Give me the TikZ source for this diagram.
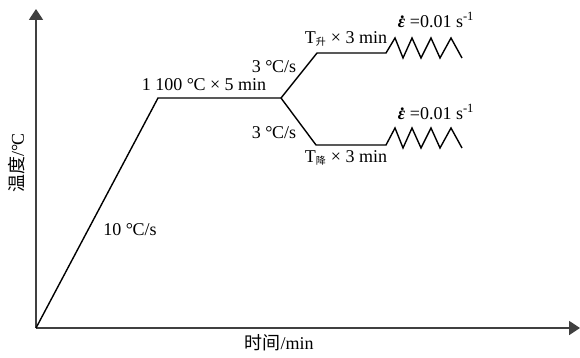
\documentclass[tikz,border=0pt]{standalone}
\usepackage{fontspec}
\setmainfont{Liberation Serif}
\newfontfamily\cjk{Noto Sans CJK SC}
\usetikzlibrary{arrows.meta}
\newcommand{\degC}{°\kern-0.5pt C}
\newcommand{\epsdot}{{\bfseries\itshape ε}\llap{\raisebox{0.5em}{\bfseries .}\kern0.04em}}
\begin{document}
\begin{tikzpicture}[x=1pt,y=-1pt,
  axis/.style={line width=1.8pt,draw=black!75,-{Triangle[length=11pt,width=14pt]}},
  curve/.style={line width=1.4pt,line join=miter},
  lbl/.style={inner sep=0pt,font=\fontsize{18}{20}\selectfont}]
\useasboundingbox (0,0) rectangle (580,358);
% coordinates
\coordinate (O) at (36,328);
\coordinate (ytop) at (36,9);
\coordinate (xend) at (580,328);
\coordinate (A) at (158,98);
\coordinate (B) at (281,98);
\coordinate (U1) at (317,53);
\coordinate (U2) at (386,53);
\coordinate (L1) at (316,145);
\coordinate (L2) at (386,145);
% axes
\draw[axis] (O) -- (ytop);
\draw[axis] (O) -- (xend);
% path
\draw[curve] (O) -- (A) -- (B);
\draw[curve] (B) -- (U1) -- (U2) -- ++(9,-15) -- ++(8,20) -- ++(9,-20) -- ++(9,20) -- ++(10,-20) -- ++(9,20) -- ++(11,-20) -- ++(11,20);
\draw[curve] (B) -- (L1) -- (L2) -- ++(9,-17) -- ++(8,20) -- ++(9,-20) -- ++(9,20) -- ++(10,-20) -- ++(9,20) -- ++(11,-20) -- ++(11,20);
% labels
\node[lbl] (eu) at (436,20) {\epsdot\ =0.01 s\textsuperscript{-1}};
\node[lbl] (el) at (436,112) {\epsdot\ =0.01 s\textsuperscript{-1}};
\node[lbl] (tu) at (346,39) {T\textsubscript{\cjk\fontsize{10}{10}\selectfont 升} × 3 min};
\node[lbl] (tl) at (346,158) {T\textsubscript{\cjk\fontsize{10}{10}\selectfont 降} × 3 min};
\node[lbl] (ru) at (274,67) {3 \degC/s};
\node[lbl] (rl) at (274,133) {3 \degC/s};
\node[lbl] (hold) at (204,85) {1 100 \degC\ × 5 min};
\node[lbl] (r10) at (130,230) {10 \degC/s};
\node[lbl,rotate=90] (ylab) at (17,163) {{\cjk 温度}/\degC};
\node[lbl] (xlab) at (279,343) {{\cjk 时间}/min};
\end{tikzpicture}
\end{document}
